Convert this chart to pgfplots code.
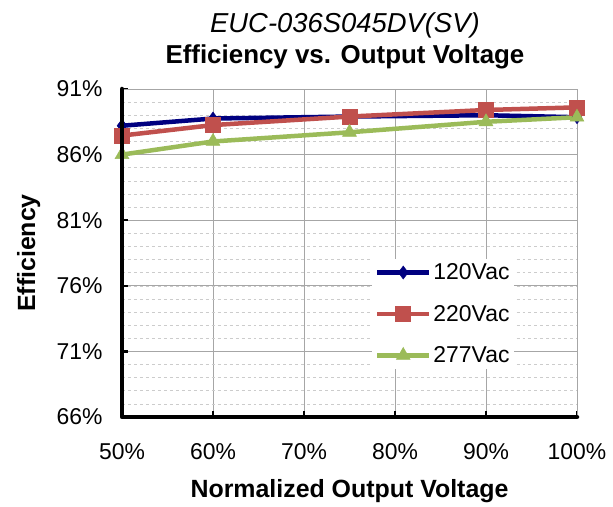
\documentclass[border=0pt]{standalone}
\usepackage{pgfplots}
\pgfplotsset{compat=1.18}
\usepackage{fontspec}
\setmainfont{Liberation Sans}
\definecolor{s1}{RGB}{0,0,128}
\definecolor{s2}{RGB}{192,80,77}
\definecolor{s3}{RGB}{155,187,89}
\begin{document}
\begin{tikzpicture}
\begin{axis}[
    scale only axis, width=455bp, height=328bp,
    xmin=50, xmax=100, ymin=66, ymax=91,
    xtick={50,60,...,100}, ytick={66,71,...,91},
    minor ytick={67,68,...,90},
    /pgf/number format/assume math mode=true,
    xticklabel={\pgfmathprintnumber{\tick}\%},
    yticklabel={\pgfmathprintnumber{\tick}\%},
    ticklabel style={font=\fontsize{23}{27}\selectfont},
    xticklabel style={yshift=-23bp},
    yticklabel style={xshift=-16bp},
    axis line style={gray!70, line width=0.8bp},
    xtick pos=bottom, ytick pos=left,
    tick align=inside, major tick length=6bp, minor tick length=0pt,
    major tick style={black, line width=2.5bp},
    xmajorgrids, ymajorgrids, yminorgrids,
    major grid style={gray!70, line width=0.8bp},
    minor grid style={gray!40, dashed, line width=0.6bp},
    title={{\fontsize{27.5}{31}\selectfont\textit{EUC-036S045DV(SV)}}\\\textbf{Efficiency vs. Output Voltage}},
    title style={align=center, font=\fontsize{26}{31}\selectfont,
        at={(axis description cs:0.49,1.128)}, anchor=center},
    xlabel={Normalized Output Voltage},
    ylabel={Efficiency},
    label style={font=\bfseries\fontsize{25}{30}\selectfont},
    xlabel style={at={(axis description cs:0.5,-0.226)}, anchor=center},
    ylabel style={at={(axis description cs:-0.205,0.5)}, anchor=center, rotate=0},
    legend style={at={(axis description cs:0.549,0.483)}, anchor=north west,
        draw=none, fill=white, font=\fontsize{23}{27}\selectfont,
        row sep=20bp, inner sep=3bp},
    legend cell align=left,
    legend image code/.code={\draw[mark repeat=2, mark phase=2, #1]
        plot coordinates {(0bp,0bp) (26bp,0bp) (52bp,0bp)};},
]
\addplot[s1, line width=4.5bp, mark=diamond*, mark size=6.5bp,
    mark options={solid, line width=0.5bp}] coordinates {
    (50,88.2) (60,88.75) (75,88.9) (90,89.0) (100,88.85)
};
\addplot[s2, line width=4.5bp, mark=square*, mark size=7.5bp,
    mark options={solid, line width=0.5bp}] coordinates {
    (50,87.45) (60,88.25) (75,88.9) (90,89.4) (100,89.6)
};
\addplot[s3, line width=4.5bp, mark=triangle*, mark size=8bp,
    mark options={solid, line width=0.5bp}] coordinates {
    (50,86.0) (60,87.0) (75,87.7) (90,88.5) (100,88.85)
};
\legend{120Vac, 220Vac, 277Vac}
\end{axis}
\draw[black, line width=4.5bp, line cap=round, line join=round]
    (current axis.north west) -- (current axis.south west) -- (current axis.south east);
\useasboundingbox (-122bp,-85bp) rectangle (491bp,417bp);
\end{tikzpicture}
\end{document}
